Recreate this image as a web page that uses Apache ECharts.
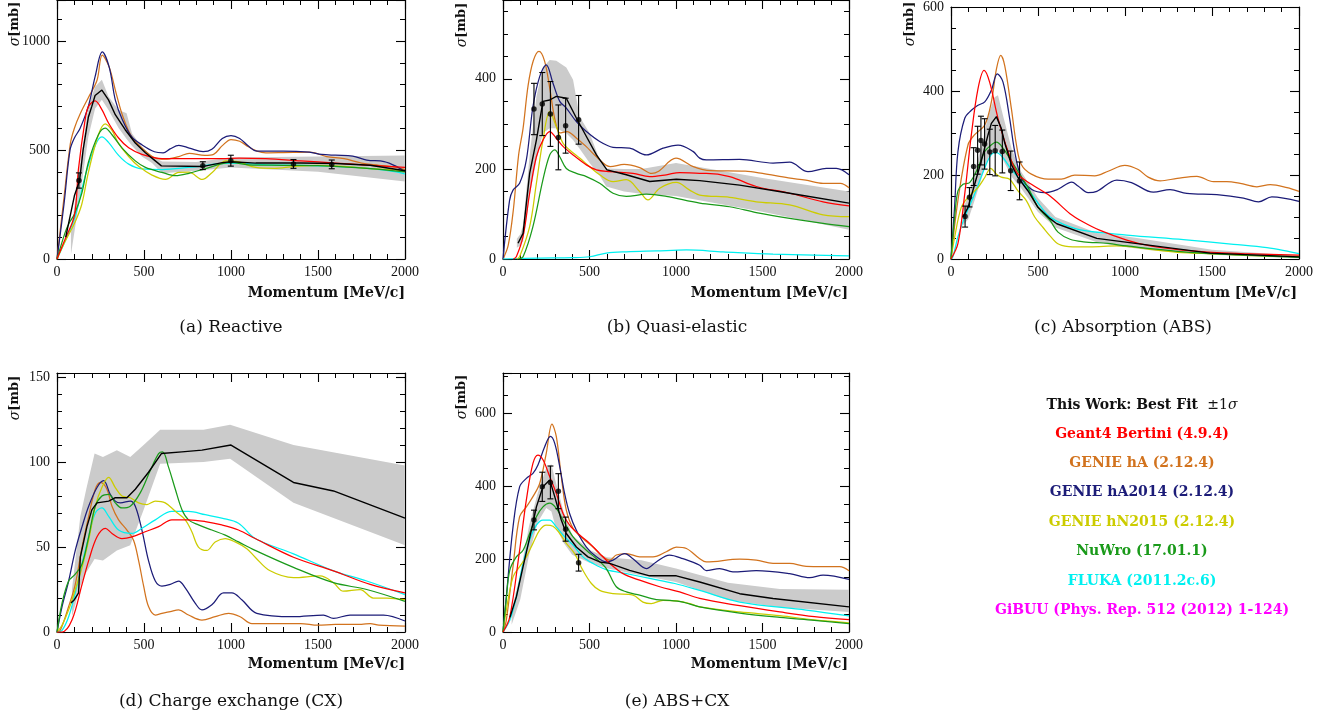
<!DOCTYPE html>
<html><head><meta charset="utf-8">
<script src="https://cdn.jsdelivr.net/npm/echarts@6/dist/echarts.min.js"></script>
<style>html,body{margin:0;padding:0;background:#fff}#c{width:1340px;height:723px}</style>
</head><body><div id="c"></div>
<script>
// ---------------- DATA ----------------
// (a) Reactive
const A_black  = [[50,100],[100,290],[130,360],[150,500],[180,650],[200,700],[219,750],[258,775],[296,730],[335,662],[392,593],[450,532],[508,487],[565,450],[600,427],[835,424],[950,442],[1000,446],[1142,440],[1400,440],[1600,438],[1800,430],[2000,405]];
const A_red    = [[0,0],[46,90],[100,200],[123,410],[162,640],[181,700],[219,725],[258,685],[296,624],[354,555],[412,510],[488,480],[604,460],[758,460],[950,460],[1046,463],[1200,460],[1400,450],[1600,440],[1800,430],[2000,420]];
const A_orange = [[0,0],[40,280],[77,530],[100,600],[134,667],[180,740],[230,820],[260,935],[300,880],[340,760],[380,650],[430,560],[500,500],[560,465],[620,458],[700,470],[760,485],[850,475],[900,480],[950,520],[1000,548],[1050,540],[1100,515],[1150,495],[1200,487],[1300,488],[1450,490],[1550,470],[1650,460],[1750,440],[1850,430],[1950,420],[2000,410]];
const A_navy   = [[0,0],[40,250],[75,500],[100,555],[133,600],[180,700],[220,840],[260,950],[300,880],[335,730],[375,640],[430,560],[490,523],[560,492],[610,487],[650,505],[700,521],[760,509],[840,492],[890,503],[950,553],[1000,566],[1050,553],[1100,518],[1150,495],[1300,495],[1450,490],[1520,480],[1600,476],[1700,472],[1780,454],[1880,447],[1950,425],[2000,400]];
const A_yellow = [[0,0],[46,80],[104,170],[142,250],[181,400],[238,570],[277,620],[316,590],[354,530],[412,470],[469,425],[546,385],[623,365],[700,397],[758,398],[835,365],[892,397],[969,450],[1046,445],[1142,420],[1250,416],[1359,424],[1500,430],[1650,425],[1800,415],[2000,405]];
const A_green  = [[0,0],[46,120],[70,165],[100,205],[142,300],[181,445],[238,570],[277,600],[316,570],[373,510],[450,450],[508,420],[604,397],[681,382],[758,393],[854,415],[1000,443],[1100,432],[1300,430],[1500,428],[1800,415],[2000,400]];
const A_cyan   = [[0,0],[46,80],[104,195],[162,380],[219,520],[258,560],[296,535],[354,475],[412,435],[488,413],[604,410],[758,420],[1000,440],[1200,432],[1400,430],[1600,425],[1800,415],[1950,400],[2000,390]];
const A_band_x  = [80,130,180,219,258,296,354,400,431,488,546,604,800,1000,1500,2000];
const A_band_hi = [120,420,700,790,822,745,684,668,576,515,470,447,445,465,470,475];
const A_band_lo = [20,280,560,690,730,684,601,550,520,470,440,393,405,420,400,355];
const A_pts = [[126,360,35],[838,428,18],[999,451,25],[1359,436,20],[1579,434,20]];

// (b) Quasi-elastic
const B_black  = [[87,35],[116,57],[154,190],[193,264],[231,350],[270,353],[308,361],[366,357],[424,313],[482,272],[540,231],[601,198],[713,187],[848,172],[1002,177],[1137,174],[1368,164],[1657,146],[2000,124]];
const B_red    = [[60,0],[77,5],[116,50],[154,146],[193,227],[231,264],[270,283],[308,268],[347,250],[405,231],[482,209],[540,198],[617,194],[751,190],[848,183],[944,187],[1021,192],[1137,190],[1175,190],[1310,183],[1464,161],[1657,146],[1850,127],[2000,118]];
const B_orange = [[0,0],[30,30],[60,110],[90,230],[116,290],[145,385],[175,440],[208,461],[240,440],[270,380],[300,310],[330,280],[370,283],[420,270],[480,250],[540,227],[620,205],[700,210],[790,203],[860,190],[900,195],[1000,224],[1100,205],[1200,196],[1400,195],[1500,190],[1650,180],[1750,175],[1850,168],[1950,168],[2000,158]];
const B_navy   = [[0,0],[38,130],[58,153],[96,168],[135,220],[173,338],[212,405],[250,431],[289,390],[328,350],[366,335],[424,305],[482,283],[559,261],[636,248],[732,246],[829,231],[925,246],[1012,253],[1098,239],[1137,224],[1175,220],[1368,221],[1561,213],[1657,215],[1763,194],[1869,201],[1927,201],[2000,187]];
const B_yellow = [[80,0],[96,5],[154,72],[193,168],[231,264],[270,327],[308,294],[347,257],[385,242],[443,224],[501,205],[559,187],[636,172],[713,176],[790,150],[838,131],[906,157],[1002,170],[1079,153],[1137,142],[1310,137],[1464,127],[1657,120],[1850,98],[2000,94]];
const B_green  = [[90,0],[116,5],[173,72],[231,176],[270,231],[299,242],[328,227],[366,201],[424,190],[482,183],[559,168],[636,146],[713,139],[829,144],[944,139],[1137,124],[1310,116],[1464,103],[1657,90],[1850,79],[2000,72]];
const B_cyan   = [[0,0],[200,2],[400,3],[501,5],[597,13],[713,16],[886,18],[1060,20],[1272,16],[1561,11],[2000,7]];
const B_band_x  = [80,100,116,154,193,231,270,308,366,405,443,501,559,597,700,800,1000,1500,2000];
const B_band_hi = [45,55,75,230,360,425,442,440,425,398,316,279,220,201,200,200,213,180,150];
const B_band_lo = [25,30,40,140,220,280,290,290,279,264,245,213,185,161,150,145,140,105,65];
const B_pts = [[179,333,57],[227,344,70],[274,322,72],[320,270,72],[362,296,61],[437,309,54]];

// (c) Absorption
const C_black  = [[69,100],[98,123],[136,178],[174,233],[213,296],[232,323],[261,339],[289,311],[309,276],[347,225],[385,194],[443,162],[500,123],[569,96],[608,84],[838,49],[1490,14],[2000,5]];
const C_red    = [[0,0],[40,37],[79,155],[117,296],[155,405],[190,449],[222,421],[270,335],[328,256],[385,202],[462,178],[569,150],[684,108],[760,88],[857,68],[1010,45],[1145,31],[1336,21],[1528,15],[1720,12],[2000,9]];
const C_orange = [[0,0],[40,140],[98,272],[136,296],[194,319],[232,374],[261,452],[286,485],[309,460],[347,358],[376,272],[404,225],[462,202],[558,190],[634,190],[711,200],[826,198],[903,209],[999,223],[1076,213],[1133,195],[1202,186],[1300,192],[1413,197],[1509,184],[1585,184],[1662,180],[1758,172],[1835,177],[1931,170],[2000,161]];
const C_navy   = [[0,0],[20,120],[40,256],[79,335],[117,354],[155,366],[194,374],[232,402],[266,441],[299,421],[337,335],[366,256],[404,194],[462,166],[539,158],[615,166],[694,183],[730,174],[788,158],[838,161],[953,188],[1037,182],[1163,159],[1259,165],[1355,156],[1528,153],[1681,145],[1767,136],[1844,148],[2000,137]];
const C_yellow = [[0,0],[21,52],[59,123],[98,147],[155,170],[194,194],[228,216],[261,202],[289,195],[337,190],[385,162],[433,139],[481,100],[529,75],[569,55],[620,35],[700,29],[800,29],[953,31],[1037,29],[1145,23],[1300,16],[1528,12],[1750,8],[2000,6]];
const C_green  = [[0,0],[21,100],[40,162],[69,178],[107,182],[155,217],[194,256],[232,272],[261,278],[299,264],[347,233],[395,202],[443,170],[500,123],[569,92],[615,64],[684,47],[761,41],[903,37],[1010,31],[1400,15],[1700,9],[2000,4]];
const C_cyan   = [[0,0],[11,5],[40,53],[79,100],[136,155],[194,217],[232,249],[261,253],[299,241],[347,213],[395,190],[462,155],[519,123],[569,100],[650,82],[761,68],[1010,57],[1336,46],[1624,35],[1816,27],[1950,17],[2000,13]];
const C_band_x  = [69,100,136,174,213,250,270,300,350,400,500,600,838,953,1145,1500,2000];
const C_band_hi = [120,150,210,265,340,385,390,340,260,210,145,100,62,57,45,22,8];
const C_band_lo = [80,95,140,190,240,265,260,235,195,170,112,75,40,31,21,10,2];
const C_pts = [[81,101,25],[106,147,23],[130,220,45],[153,259,57],[172,282,58],[193,274,60],[223,255,54],[254,258,60],[295,256,51],[343,210,47],[394,186,45]];

// (d) Charge exchange
const D_black  = [[80,17],[100,19],[124,23],[134,44],[172,62],[201,72],[230,76],[297,77],[335,79],[402,79],[450,84],[526,94],[600,105],[718,106],[833,107],[1000,110],[1359,88],[1589,83],[2000,67]];
const D_red    = [[0,0],[29,0],[86,7],[144,28],[182,42],[230,56],[278,61],[316,58],[373,55],[431,56],[507,59],[584,62],[660,66],[756,66],[852,65],[947,63],[1043,60],[1139,55],[1359,44],[1589,36],[1800,28],[2000,23]];
const D_orange = [[0,0],[19,1],[67,15],[105,28],[144,50],[182,68],[220,84],[250,88],[287,84],[316,74],[354,66],[402,60],[440,54],[469,42],[498,27],[526,15],[565,10],[603,11],[651,12],[699,13],[756,10],[833,7],[909,9],[986,11],[1053,9],[1120,5],[1400,5],[1500,4],[1600,4.5],[1750,4.5],[1800,5],[1850,4],[2000,3.5]];
const D_navy   = [[0,0],[29,15],[67,30],[105,48],[144,62],[182,74],[230,85],[268,89],[306,81],[335,77],[364,76],[421,77],[450,74],[488,60],[526,42],[565,30],[603,27],[651,28],[699,30],[737,26],[794,17],[833,13],[890,16],[957,23],[1005,23],[1062,19],[1148,11],[1359,9],[1531,10],[1589,8],[1684,10],[1876,10],[2000,6.5]];
const D_yellow = [[0,0],[29,4],[67,13],[105,25],[144,38],[182,54],[220,74],[258,85],[297,91],[335,85],[373,80],[421,79],[469,76],[517,75],[565,77],[622,76],[680,71],[737,66],[775,59],[813,50],[861,48],[909,53],[967,55],[1024,53],[1091,49],[1139,44],[1225,36],[1359,32],[1512,33],[1589,29],[1646,24],[1742,25],[1818,20],[1895,20],[2000,19]];
const D_green  = [[0,0],[29,17],[67,30],[105,34],[144,40],[182,56],[220,74],[258,80],[297,81],[335,76],[373,73],[421,74],[479,82],[536,95],[584,105],[607,106],[641,97],[680,84],[718,72],[756,66],[813,63],[890,60],[967,57],[1043,53],[1139,48],[1359,38],[1589,29],[1780,25],[2000,18]];
const D_cyan   = [[0,0],[29,1],[67,9],[105,23],[144,40],[182,56],[220,70],[258,73],[297,68],[354,60],[431,58],[488,61],[565,66],[660,71],[756,71],[852,69],[947,67],[1043,64],[1139,55],[1359,46],[1589,36],[1780,30],[2000,22]];
const D_band_x  = [86,134,168,216,264,344,421,498,593,842,995,1359,2000];
const D_band_hi = [25,68,84,105,103,107,103,110,119,119,122,110,98];
const D_band_lo = [9,27,35,43,42,48,51,72,99,100,102,76,51];

// (e) ABS+CX
const E_black  = [[40,40],[77,96],[116,179],[173,298],[193,343],[231,398],[270,417],[299,371],[337,307],[366,270],[424,233],[491,206],[559,192],[617,188],[732,169],[848,154],[1002,154],[1137,137],[1368,105],[1561,92],[2000,69]];
const E_red    = [[0,0],[39,41],[96,224],[135,362],[173,462],[202,485],[231,472],[270,426],[308,380],[347,325],[385,293],[443,266],[501,243],[559,215],[617,188],[694,160],[790,142],[906,124],[1021,110],[1137,92],[1368,72],[1600,55],[1800,42],[2000,34]];
const E_orange = [[0,0],[19,32],[58,180],[96,316],[135,343],[173,371],[212,407],[250,490],[283,570],[308,536],[337,426],[366,334],[405,284],[462,256],[520,233],[578,206],[617,197],[655,211],[713,215],[790,206],[867,206],[944,220],[1002,233],[1060,229],[1137,201],[1175,192],[1368,200],[1464,197],[1561,188],[1657,188],[1753,180],[1946,179],[2000,168]];
const E_navy   = [[0,0],[19,96],[58,288],[96,398],[135,421],[173,435],[202,458],[241,508],[274,536],[299,517],[328,453],[356,380],[385,325],[424,279],[482,233],[540,206],[597,192],[636,197],[703,215],[751,201],[829,174],[886,192],[963,211],[1040,201],[1137,183],[1175,168],[1252,174],[1329,165],[1464,168],[1657,160],[1773,149],[1850,156],[2000,144]];
const E_yellow = [[0,0],[19,60],[58,151],[96,179],[135,206],[173,243],[212,279],[250,293],[289,290],[328,270],[366,243],[414,215],[462,169],[511,133],[559,114],[636,105],[751,101],[809,82],[857,78],[925,87],[1002,85],[1079,78],[1137,69],[1368,55],[1600,45],[1800,33],[2000,25]];
const E_green  = [[0,0],[19,90],[39,169],[77,206],[116,224],[154,270],[193,316],[231,343],[270,353],[308,339],[347,307],[405,261],[482,224],[540,201],[597,174],[655,124],[713,110],[790,101],[886,89],[963,87],[1040,82],[1137,69],[1368,52],[1600,40],[1800,32],[2000,23]];
const E_cyan   = [[0,0],[39,32],[77,96],[116,188],[154,252],[193,293],[231,307],[270,307],[308,288],[347,266],[405,238],[462,206],[520,188],[597,171],[713,160],[848,147],[993,133],[1137,114],[1368,82],[1753,60],[2000,44]];
const E_band_x  = [50,100,150,200,250,280,300,350,400,500,600,800,1000,1300,1600,2000];
const E_band_hi = [60,160,290,380,450,460,420,330,265,225,205,197,174,135,118,116];
const E_band_lo = [20,90,210,300,340,330,295,245,212,190,175,155,137,88,68,55];
const E_pts = [[179,307,27],[227,398,40],[274,410,45],[320,386,48],[362,282,33],[437,190,23]];

const CAPTIONS = ['(a) Reactive','(b) Quasi-elastic','(c) Absorption (ABS)','(d) Charge exchange (CX)','(e) ABS+CX'];
const LEGEND = ['Geant4 Bertini (4.9.4)','GENIE hA (2.12.4)','GENIE hA2014 (2.12.4)','GENIE hN2015 (2.12.4)','NuWro (17.01.1)','FLUKA (2011.2c.6)','GiBUU (Phys. Rep. 512 (2012) 1-124)'];
const LEGEND_COLORS = ['#ff0000','#d2731e','#1c1c78','#cccc00','#1a9a1a','#00f0f0','#ff00ff'];
const XTITLE = 'Momentum [MeV/c]';

// ---------------- LAYOUT ----------------
const COL = {black:'#000000', red:'#ff0000', orange:'#d2731e', navy:'#1c1c78', yellow:'#cccc00', green:'#1a9a1a', cyan:'#00f0f0'};
const panels = [
  {g:{left:57,top:0,width:348,height:259}, ymax:1188, major:500, minor:100,
   lines:{red:A_red,orange:A_orange,navy:A_navy,yellow:A_yellow,green:A_green,cyan:A_cyan,black:A_black},
   band:[A_band_x,A_band_hi,A_band_lo], pts:A_pts, ytitle:[15,24], xtitle:[405,293], cap:[231,328]},
  {g:{left:503,top:0,width:346,height:259}, ymax:575, major:200, minor:50,
   lines:{red:B_red,orange:B_orange,navy:B_navy,yellow:B_yellow,green:B_green,cyan:B_cyan,black:B_black},
   band:[B_band_x,B_band_hi,B_band_lo], pts:B_pts, ytitle:[462,25], xtitle:[848,293], cap:[677,328]},
  {g:{left:951,top:1,width:348,height:258}, ymax:600, major:200, minor:50,
   lines:{red:C_red,orange:C_orange,navy:C_navy,yellow:C_yellow,green:C_green,cyan:C_cyan,black:C_black},
   band:[C_band_x,C_band_hi,C_band_lo], pts:C_pts, ytitle:[910,24], xtitle:[1297,293], cap:[1123,328]},
  {g:{left:57,top:373,width:348,height:259}, ymax:152.4, major:50, minor:10,
   lines:{red:D_red,orange:D_orange,navy:D_navy,yellow:D_yellow,green:D_green,cyan:D_cyan,black:D_black},
   band:[D_band_x,D_band_hi,D_band_lo], pts:null, ytitle:[15,398], xtitle:[405,664], cap:[231,702]},
  {g:{left:503,top:373,width:346,height:259}, ymax:710, major:200, minor:50,
   lines:{red:E_red,orange:E_orange,navy:E_navy,yellow:E_yellow,green:E_green,cyan:E_cyan,black:E_black},
   band:[E_band_x,E_band_hi,E_band_lo], pts:E_pts, ytitle:[462,397], xtitle:[848,664], cap:[677,702]}
];

const grids=[], xAxes=[], yAxes=[], series=[], graphics=[];
const lblFont = {color:'#111', fontFamily:'Liberation Serif', fontSize:14};

panels.forEach((p,i)=>{
  grids.push(Object.assign({containLabel:false}, p.g));
  const xb = {gridIndex:i, type:'value', min:0, max:2000, interval:500,
    axisLine:{onZero:false, lineStyle:{color:'#000', width:1.2}},
    axisTick:{inside:true, length:9, lineStyle:{color:'#000', width:1.1}},
    minorTick:{show:true, splitNumber:5, length:5, lineStyle:{color:'#000', width:1}},
    splitLine:{show:false}, minorSplitLine:{show:false}};
  xAxes.push(Object.assign({}, xb, {position:'bottom', axisLabel:Object.assign({margin:6, formatter:v => String(v)}, lblFont)}));
  xAxes.push(Object.assign({}, xb, {position:'top', axisLabel:{show:false}}));
  const yb = {gridIndex:i, type:'value', min:0, max:p.ymax, splitLine:{show:false},
    axisLine:{onZero:false, lineStyle:{color:'#000', width:1.2}}};
  const mj = p.major;
  yAxes.push(Object.assign({}, yb, {position:'left', interval:p.major,
    axisTick:{inside:true, length:9, lineStyle:{color:'#000', width:1.1}},
    axisLabel:Object.assign({margin:7, formatter:v => (Math.abs(v % mj) < 1e-9 ? String(v) : '')}, lblFont)}));
  yAxes.push(Object.assign({}, yb, {position:'left', interval:p.minor, axisLine:{show:false, onZero:false},
    axisTick:{inside:true, length:5, lineStyle:{color:'#000', width:1}}, axisLabel:{show:false}}));
  yAxes.push(Object.assign({}, yb, {position:'right', interval:p.major,
    axisTick:{inside:true, length:9, lineStyle:{color:'#000', width:1.1}}, axisLabel:{show:false}}));
  yAxes.push(Object.assign({}, yb, {position:'right', interval:p.minor, axisLine:{show:false, onZero:false},
    axisTick:{inside:true, length:5, lineStyle:{color:'#000', width:1}}, axisLabel:{show:false}}));

  const xi = 2*i, yi = 4*i;
  const [bx, bhi, blo] = p.band;
  series.push({type:'custom', xAxisIndex:xi, yAxisIndex:yi, silent:true, z:1, clip:true,
    data:[[bx[0], blo[0]]],
    renderItem:(params, api)=>{
      const pts=[];
      for (let k=0;k<bx.length;k++) pts.push(api.coord([bx[k], bhi[k]]));
      for (let k=bx.length-1;k>=0;k--) pts.push(api.coord([bx[k], blo[k]]));
      return {type:'polygon', shape:{points:pts}, style:{fill:'#cbcbcb', stroke:null}};
    }});
  ['orange','navy','cyan','yellow','green','red','black'].forEach(k=>{
    const isBlack = k==='black';
    series.push({type:'line', xAxisIndex:xi, yAxisIndex:yi, data:p.lines[k], showSymbol:false,
      smooth: isBlack ? false : 0.35, clip:true, silent:true, z: isBlack?4:3,
      lineStyle:{color:COL[k], width: isBlack?1.4:1.25}});
  });
  if (p.pts) {
    series.push({type:'custom', xAxisIndex:xi, yAxisIndex:yi, silent:true, z:5, data:p.pts,
      encode:{x:0, y:1},
      renderItem:(params, api)=>{
        const x=api.value(0), y=api.value(1), e=api.value(2);
        const t=api.coord([x, y+e]), b=api.coord([x, y-e]);
        const st={stroke:'#000', lineWidth:1.1};
        return {type:'group', children:[
          {type:'line', shape:{x1:t[0],y1:t[1],x2:b[0],y2:b[1]}, style:st},
          {type:'line', shape:{x1:t[0]-3,y1:t[1],x2:t[0]+3,y2:t[1]}, style:st},
          {type:'line', shape:{x1:b[0]-3,y1:b[1],x2:b[0]+3,y2:b[1]}, style:st}]};
      }});
    series.push({type:'scatter', xAxisIndex:xi, yAxisIndex:yi, silent:true, z:6,
      data:p.pts.map(q=>[q[0],q[1]]), symbol:'circle', symbolSize:5.5, itemStyle:{color:'#000'}});
  }

  // texts
  graphics.push({type:'text', x:p.xtitle[0], y:p.xtitle[1], style:{text:XTITLE, fill:'#111',
    font:'bold 14px "DejaVu Serif"', textAlign:'right', textVerticalAlign:'middle'}});
  graphics.push({type:'text', x:p.ytitle[0], y:p.ytitle[1], rotation:Math.PI/2, style:{
    text:'{i|σ}{b|[mb]}', textAlign:'center', textVerticalAlign:'middle',
    rich:{i:{fontFamily:'DejaVu Serif', fontStyle:'italic', fontSize:14, fill:'#111'},
          b:{fontFamily:'DejaVu Serif', fontWeight:'bold', fontSize:13, fill:'#111'}}}});
  graphics.push({type:'text', x:p.cap[0], y:p.cap[1], style:{text:CAPTIONS[i], fill:'#111',
    font:'17px "DejaVu Serif"', textAlign:'center', textVerticalAlign:'middle'}});
});

// legend block
graphics.push({type:'text', x:1142, y:405, style:{text:'{b|This Work: Best Fit }{r| ±1}{i|σ}',
  textAlign:'center', textVerticalAlign:'middle',
  rich:{b:{fontFamily:'DejaVu Serif', fontWeight:'bold', fontSize:14, fill:'#111'},
        r:{fontFamily:'DejaVu Serif', fontSize:14, fill:'#111'},
        i:{fontFamily:'DejaVu Serif', fontStyle:'italic', fontSize:14, fill:'#111'}}}});
LEGEND.forEach((t,k)=>{
  graphics.push({type:'text', x:1142, y:434 + k*29.4, style:{text:t, fill:LEGEND_COLORS[k],
    font:'bold 14px "DejaVu Serif"', textAlign:'center', textVerticalAlign:'middle'}});
});

const chart = echarts.init(document.getElementById('c'), null, {renderer:'canvas'});
chart.setOption({animation:false, backgroundColor:'#fff', grid:grids, xAxis:xAxes, yAxis:yAxes, series:series, graphic:graphics});
</script>
</body></html>
